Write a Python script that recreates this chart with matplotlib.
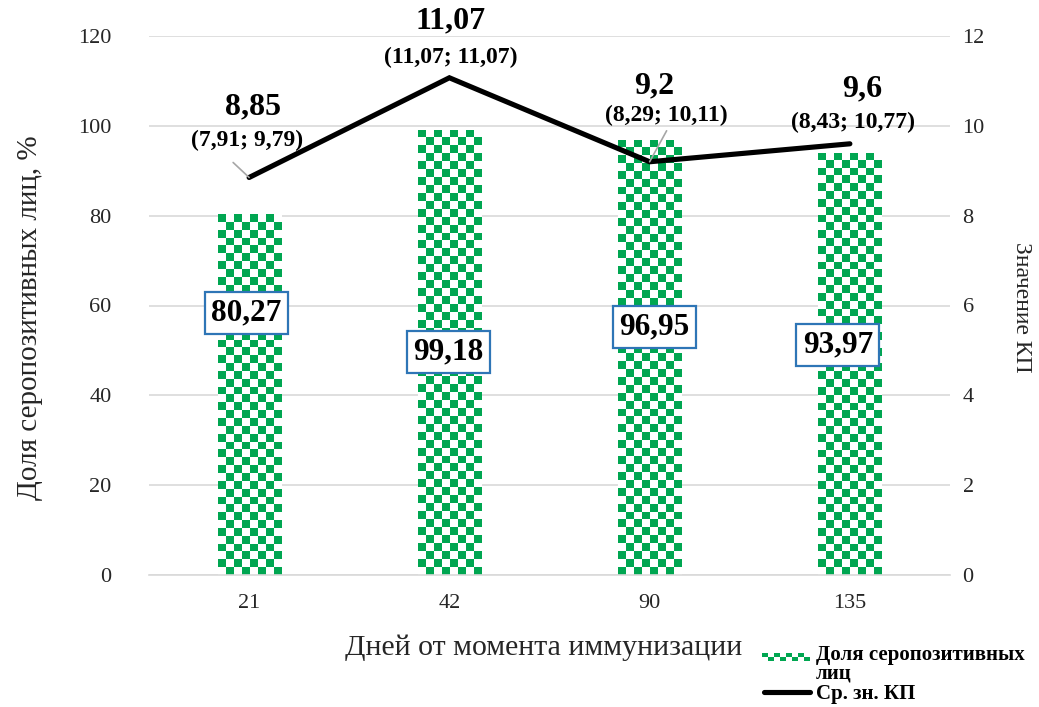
import numpy as np
import matplotlib
matplotlib.use("Agg")
import matplotlib.pyplot as plt
from matplotlib.colors import ListedColormap
from matplotlib.patches import Rectangle
from matplotlib.lines import Line2D

plt.rcParams['font.family'] = ['Liberation Serif', 'DejaVu Serif']

# Data
days = ["21", "42", "90", "135"]
seropos_share = [80.27, 99.18, 96.95, 93.97]          # % seropositive
kp_mean = [8.85, 11.07, 9.2, 9.6]                      # mean KP value
kp_ci_low = [7.91, 11.07, 8.29, 8.43]
kp_ci_high = [9.79, 11.07, 10.11, 10.77]

left_ticks = [0, 20, 40, 60, 80, 100, 120]
right_ticks = [0, 2, 4, 6, 8, 10, 12]

GREEN = "#00a651"
W, H = 1039, 707


def fx(px):
    return px / W


def fy(py):
    return 1 - py / H


def fmt(v):
    return f"{v:g}".replace(".", ",")


fig = plt.figure(figsize=(W / 100, H / 100), dpi=100)
ax = fig.add_axes([fx(149), fy(575), fx(950) - fx(149), fy(36) - fy(575)])

x = np.arange(len(days))
bar_w = 0.315
bars = ax.bar(x, seropos_share, width=bar_w, color="white", edgecolor="none", zorder=2)

ax.set_xlim(-0.5, len(days) - 0.5)
ax.set_ylim(0, 120)

# checkerboard fill for each bar
cmap = ListedColormap(["white", GREEN])
fig.canvas.draw()
for rect in bars:
    x0, y0 = rect.get_x(), rect.get_y()
    w, h = rect.get_width(), rect.get_height()
    p0 = ax.transData.transform((x0, y0))
    p1 = ax.transData.transform((x0 + w, y0 + h))
    nx = 8
    cell = (p1[0] - p0[0]) / nx
    ny = max(1, int(round((p1[1] - p0[1]) / cell)))
    ii, jj = np.indices((ny, nx))
    board = ((ii + jj) % 2 == 0).astype(float)
    im = ax.imshow(board, extent=(x0, x0 + w, y0, y0 + h), cmap=cmap,
                   vmin=0, vmax=1, aspect="auto", interpolation="nearest",
                   origin="upper", zorder=2)
    im.set_clip_path(rect)

ax.set_xlim(-0.5, len(days) - 0.5)
ax.set_ylim(0, 120)
ax.set_yticks(left_ticks)
ax.set_xticks(x)
ax.set_xticklabels(days)
ax.yaxis.grid(True, color="#d9d9d9", lw=1.2)
ax.set_axisbelow(True)
for s in ["top", "left", "right"]:
    ax.spines[s].set_visible(False)
ax.spines["bottom"].set_color("#d9d9d9")
ax.spines["bottom"].set_linewidth(1.2)
ax.tick_params(axis="both", length=0, labelsize=16, labelcolor="#262626")
ax.tick_params(axis="y", pad=27)
ax.tick_params(axis="x", pad=14)

# value boxes for the bars
box_dx = [-0.015, -0.005, 0.025, -0.06]
box_y = [58.3, 49.7, 55.2, 51.2]
for xi, v, dx, yy in zip(x, seropos_share, box_dx, box_y):
    ax.text(xi + dx, yy, fmt(v), ha="center", va="center", fontsize=22.5,
            fontweight="bold", color="black", zorder=6,
            bbox=dict(boxstyle="square,pad=0.2", fc="white", ec="#2e75b6", lw=1.6))

# mean KP line on the secondary axis
ax2 = ax.twinx()
ax2.set_ylim(0, 12)
ax2.set_yticks(right_ticks)
for s in ["top", "left", "right", "bottom"]:
    ax2.spines[s].set_visible(False)
ax2.tick_params(axis="y", length=0, labelsize=16, labelcolor="#262626", pad=9)
ax2.plot(x, kp_mean, color="black", lw=3.7, solid_capstyle="round",
         solid_joinstyle="miter", zorder=3)

mean_dx = [0.02, 0.005, 0.025, 0.06]
mean_y = [10.42, 12.33, 10.89, 10.82]
ci_dx = [-0.01, 0.005, 0.085, 0.015]
ci_y = [9.68, 11.53, 10.24, 10.08]
for i in range(len(days)):
    ax2.text(x[i] + mean_dx[i], mean_y[i], fmt(kp_mean[i]), ha="center", va="center",
             fontsize=23, fontweight="bold", clip_on=False)
    ax2.text(x[i] + ci_dx[i], ci_y[i], f"({fmt(kp_ci_low[i])}; {fmt(kp_ci_high[i])})",
             ha="center", va="center", fontsize=17, fontweight="bold", clip_on=False)

# leader lines from the interval labels to their points
for i, off in [(0, (-16, 15)), (2, (17, 31))]:
    ax2.annotate("", xy=(x[i], kp_mean[i]), xytext=off, textcoords="offset pixels",
                 arrowprops=dict(arrowstyle="-", color="#a6a6a6", lw=1.2,
                                 shrinkA=0, shrinkB=0))

# axis titles
fig.text(fx(30), fy(318), "Доля серопозитивных лиц, %", rotation=90,
         ha="center", va="center", fontsize=21, color="#262626")
fig.text(fx(1021), fy(307), "Значение КП", rotation=-90,
         ha="center", va="center", fontsize=17, color="#262626")
fig.text(fx(544), fy(648), "Дней от момента иммунизации",
         ha="center", va="center", fontsize=21.5, color="#262626")

# legend
cell = 6
for k in range(8):
    for r in range(2):
        if (k + r) % 2 == 0:
            fig.add_artist(Rectangle((fx(762 + k * cell), fy(653 + r * 4 + 4)),
                                     fx(cell), 4 / H, transform=fig.transFigure,
                                     color=GREEN, lw=0))
fig.add_artist(Line2D([fx(764), fx(810)], [fy(692), fy(692)], transform=fig.transFigure,
                      color="black", lw=3.7, solid_capstyle="round"))
legend_kw = dict(ha="left", va="center", fontsize=15, fontweight="bold")
fig.text(fx(816), fy(655), "Доля серопозитивных", **legend_kw)
fig.text(fx(816), fy(674), "лиц", **legend_kw)
fig.text(fx(816), fy(694), "Ср. зн. КП", **legend_kw)

fig.savefig("out.png", dpi=100)
